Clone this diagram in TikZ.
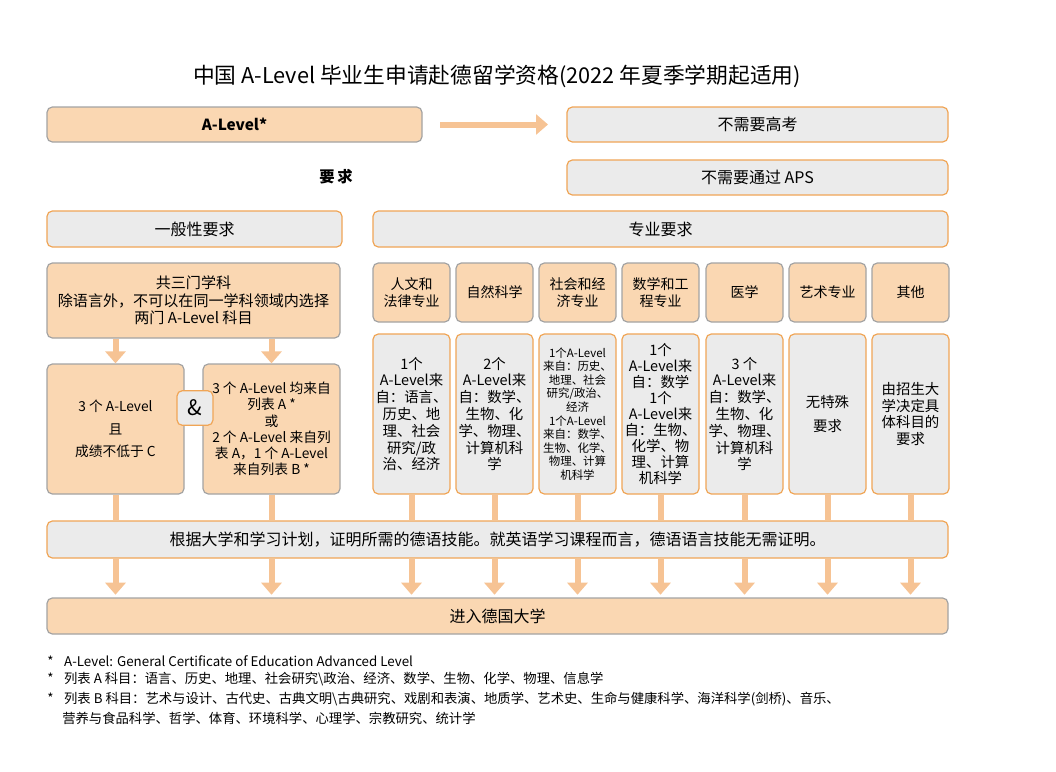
\documentclass[tikz,border=0pt]{standalone}
\usepackage{fontspec}
\setmainfont{Noto Sans CJK SC}
\usetikzlibrary{arrows.meta}
\definecolor{peach}{HTML}{FAD7B2}
\definecolor{gfill}{HTML}{EBEBEB}
\definecolor{gline}{HTML}{A3A3A3}
\definecolor{oline}{HTML}{F0A556}
\definecolor{arr}{HTML}{F6C394}
\begin{document}
\begin{tikzpicture}[x=0.75pt,y=-0.75pt,
 pbox/.style={draw=gline,fill=peach,line width=0.9pt,rounded corners=4pt,align=center,inner sep=1pt,font=\fontsize{11.3}{13.5}\selectfont},
 gbox/.style={draw=oline,fill=gfill,line width=0.9pt,rounded corners=4pt,align=center,inner sep=1pt,font=\fontsize{11.3}{13.5}\selectfont},
 hd/.style={pbox,minimum width=57.75pt,minimum height=44.25pt,font=\fontsize{10.5}{12.5}\selectfont},
 bd/.style={gbox,minimum width=57.75pt,minimum height=120pt,font=\fontsize{10.8}{12.6}\selectfont},
 stub/.style={draw=arr,line width=4.5pt},
 darr/.style={draw=arr,line width=4.5pt,-{Triangle[width=15pt,length=9pt]}},
 foot/.style={anchor=west,font=\fontsize{10}{11}\selectfont,inner sep=0pt}]
\useasboundingbox (0,0) rectangle (1056,771);
\node[font=\fontsize{16.3}{18}\selectfont] (title) at (497,76) {中国 A-Level 毕业生申请赴德留学资格(2022 年夏季学期起适用)};
\node[pbox,minimum width=281.25pt,minimum height=26.25pt,font=\bfseries\fontsize{11.5}{13}\selectfont] (alevel) at (234.5,124.5) {A-Level*};
\node[gbox,minimum width=285.75pt,minimum height=26.25pt,font=\fontsize{12}{13}\selectfont] (nogk) at (757.5,124.5) {不需要高考};
\node[gbox,minimum width=285.75pt,minimum height=26.25pt,font=\fontsize{12}{13}\selectfont] (aps) at (757.5,177.5) {不需要通过 APS};
\node[font=\bfseries\fontsize{11.5}{13}\selectfont] (req) at (336,177) {要\,求};
\draw[darr] (440,124.5) -- (548,124.5) coordinate (arrend);
\node[gbox,minimum width=221.25pt,minimum height=27pt,font=\fontsize{12}{13}\selectfont] (gen) at (194.5,229) {一般性要求};
\node[gbox,minimum width=431.25pt,minimum height=27pt,font=\fontsize{12}{13}\selectfont] (spec) at (660.5,229) {专业要求};
\node[pbox,minimum width=219.75pt,minimum height=56.25pt,font=\fontsize{11.3}{13}\selectfont] (three) at (193.5,300.5) {共三门学科\\除语言外，不可以在同一学科领域内选择\\两门 A-Level 科目};
\node[pbox,minimum width=102.75pt,minimum height=97.5pt,font=\fontsize{10.3}{17}\selectfont] (L) at (115.5,429) {3 个 A-Level\\且\\成绩不低于 C};
\node[pbox,minimum width=102.75pt,minimum height=97.5pt,font=\fontsize{10.3}{12.2}\selectfont] (R) at (271.5,429) {3 个 A-Level 均来自\\列表 A *\\或\\2 个 A-Level 来自列\\表 A，1 个 A-Level\\来自列表 B *};
\node[gbox,minimum width=27pt,minimum height=26pt,font=\fontsize{16}{16}\selectfont] (amp) at (195,408) {\&};
\draw[darr] (three.south -| L) -- (L.north);
\draw[darr] (three.south -| R) -- (R.north);
\node[hd] (h1) at (411.5,292.5) {人文和\\法律专业};
\node[hd] (h2) at (494.5,292.5) {自然科学};
\node[hd] (h3) at (577.5,292.5) {社会和经\\济专业};
\node[hd] (h4) at (660.5,292.5) {数学和工\\程专业};
\node[hd] (h5) at (744.5,292.5) {医学};
\node[hd] (h6) at (827.5,292.5) {艺术专业};
\node[hd] (h7) at (910.5,292.5) {其他};
\node[bd] (b1) at (411.5,414) {1个\\A-Level来\\自：语言、\\历史、地\\理、社会\\研究/政\\治、经济};
\node[bd] (b2) at (494.5,414) {2个\\A-Level来\\自：数学、\\生物、化\\学、物理、\\计算机科\\学};
\node[bd,font=\fontsize{8.6}{10.2}\selectfont] (b3) at (577.5,414) {1个A-Level\\来自：历史、\\地理、社会\\研究/政治、\\经济\\1个A-Level\\来自：数学、\\生物、化学、\\物理、计算\\机科学};
\node[bd,font=\fontsize{10.8}{12}\selectfont] (b4) at (660.5,414) {1个\\A-Level来\\自：数学\\1个\\A-Level来\\自：生物、\\化学、物\\理、计算\\机科学};
\node[bd] (b5) at (744.5,414) {3 个\\A-Level来\\自：数学、\\生物、化\\学、物理、\\计算机科\\学};
\node[bd,font=\fontsize{10.8}{18}\selectfont] (b6) at (827.5,414) {无特殊\\要求};
\node[bd] (b7) at (910.5,414) {由招生大\\学决定具\\体科目的\\要求};
\node[gbox,minimum width=675.75pt,minimum height=27.75pt,font=\fontsize{12}{13}\selectfont] (bar) at (497.5,539.5) {根据大学和学习计划，证明所需的德语技能。就英语学习课程而言，德语语言技能无需证明。};
\node[pbox,minimum width=675.75pt,minimum height=27pt,font=\fontsize{12}{13}\selectfont] (final) at (497.5,616) {进入德国大学};
\foreach \n in {L,R,b1,b2,b3,b4,b5,b6,b7}{
  \draw[stub] (\n.south) -- (\n.south |- bar.north);
  \draw[darr] (bar.south -| \n) -- ([yshift=2pt]final.north -| \n);
}
\node[foot] (f1) at (47,661) {*\hspace{8pt}A-Level: General Certificate of Education Advanced Level};
\node[foot] (f2) at (47,679) {*\hspace{8pt}列表 A 科目：语言、历史、地理、社会研究\textbackslash 政治、经济、数学、生物、化学、物理、信息学};
\node[foot] (f3) at (47,699) {*\hspace{8pt}列表 B 科目：艺术与设计、古代史、古典文明\textbackslash 古典研究、戏剧和表演、地质学、艺术史、生命与健康科学、海洋科学(剑桥)、音乐、};
\node[foot] (f4) at (62,718) {营养与食品科学、哲学、体育、环境科学、心理学、宗教研究、统计学};
\end{tikzpicture}
\end{document}
